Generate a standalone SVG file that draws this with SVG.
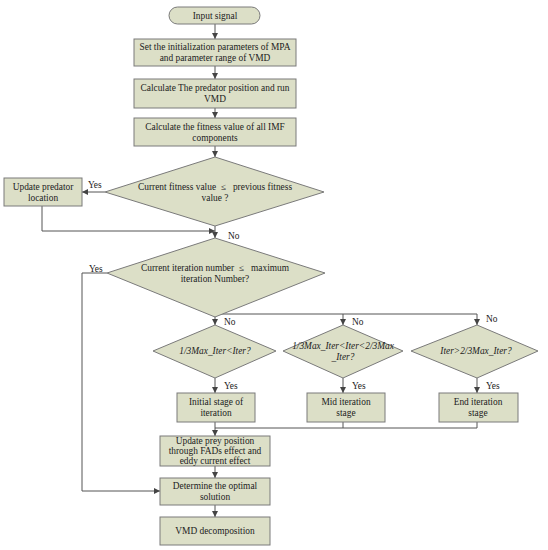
<svg xmlns="http://www.w3.org/2000/svg" width="548" height="550" viewBox="0 0 548 550">
<defs>
<marker id="ah" viewBox="0 0 8 8" refX="8" refY="4" markerWidth="6" markerHeight="6" orient="auto" markerUnits="userSpaceOnUse">
<path d="M0,0 L8,4 L0,8 z" fill="#444"/>
</marker>
<style>
.n{fill:#dcdfc7;stroke:#7a7a7a;stroke-width:1}
.t{font-family:"Liberation Serif","DejaVu Serif",serif;font-size:9.4px;fill:#222;text-anchor:middle}
.l{font-family:"Liberation Serif","DejaVu Serif",serif;font-size:9.4px;fill:#222}
.i{font-style:italic}
.c{fill:none;stroke:#555;stroke-width:1}
.a{marker-end:url(#ah)}
</style>
</defs>
<rect width="548" height="550" fill="#fff"/>
<g id="connectors">
<path class="c a" d="M215,24 V39"/>
<path class="c a" d="M215,66 V79"/>
<path class="c a" d="M215,108 V118"/>
<path class="c a" d="M215,146 V157"/>
<path class="c a" d="M105,192 H82"/>
<path class="c a" d="M42,206 V231 H215"/>
<path class="c a" d="M215,226 V238"/>
<path class="c" d="M107,273 H82 V491"/>
<path class="c a" d="M82,491 H160"/>
<path class="c" d="M215,317 V314 H477"/>
<path class="c a" d="M215,314 V325"/>
<path class="c a" d="M343,314 V325"/>
<path class="c a" d="M477,314 V325"/>
<path class="c a" d="M215,378 V393"/>
<path class="c a" d="M343,378 V393"/>
<path class="c a" d="M477,378 V393"/>
<path class="c" d="M215,422 V428 H477 V422"/>
<path class="c" d="M343,422 V428"/>
<path class="c a" d="M215,428 V436"/>
<path class="c a" d="M215,466 V478"/>
<path class="c a" d="M215,505 V517"/>
<text class="l" x="88" y="188">Yes</text>
<text class="l" x="228" y="239">No</text>
<text class="l" x="89" y="272">Yes</text>
<text class="l" x="224" y="325">No</text>
<text class="l" x="352" y="325">No</text>
<text class="l" x="486" y="322">No</text>
<text class="l" x="224" y="389">Yes</text>
<text class="l" x="352" y="389">Yes</text>
<text class="l" x="486" y="389">Yes</text>
</g>
<g id="input">
<rect class="n" x="169" y="7" width="91" height="17" rx="8.5"/>
<text class="t" x="215" y="18.5">Input signal</text>
</g>
<g id="init">
<rect class="n" x="134" y="39" width="162" height="27"/>
<text class="t" x="215" y="50">Set the initialization parameters of MPA</text>
<text class="t" x="215" y="61">and parameter range of VMD</text>
</g>
<g id="calcpred">
<rect class="n" x="134" y="79" width="162" height="29"/>
<text class="t" x="215" y="91">Calculate The predator position and run</text>
<text class="t" x="215" y="102">VMD</text>
</g>
<g id="fitness">
<rect class="n" x="134" y="118" width="162" height="28"/>
<text class="t" x="215" y="130">Calculate the fitness value of all IMF</text>
<text class="t" x="215" y="141">components</text>
</g>
<g id="dec1">
<polygon class="n" points="215,157 324,192 215,226 105,192"/>
<text class="t" x="215" y="190">Current fitness value &#160;≤ &#160; previous fitness</text>
<text class="t" x="215" y="201">value ?</text>
</g>
<g id="updpred">
<rect class="n" x="4" y="178" width="78" height="28"/>
<text class="t" x="43" y="190">Update predator</text>
<text class="t" x="43" y="201">location</text>
</g>
<g id="dec2">
<polygon class="n" points="215,238 325,273 215,317 107,273"/>
<text class="t" x="215" y="271">Current iteration number &#160;≤ &#160; maximum</text>
<text class="t" x="215" y="282">iteration Number?</text>
</g>
<g id="d3">
<polygon class="n" points="215,325 276,351 215,378 153,351"/>
<text class="t i" x="215" y="354">1/3Max_Iter&lt;Iter?</text>
</g>
<g id="d4">
<polygon class="n" points="343,325 403,351 343,378 283,351"/>
<text class="t i" x="343" y="349">1/3Max_Iter&lt;Iter&lt;2/3Max</text>
<text class="t i" x="343" y="360">_Iter?</text>
</g>
<g id="d5">
<polygon class="n" points="477,325 538,351 477,378 411,351"/>
<text class="t i" x="476" y="354">Iter&gt;2/3Max_Iter?</text>
</g>
<g id="initstage">
<rect class="n" x="177" y="393" width="78" height="29"/>
<text class="t" x="216" y="405">Initial stage of</text>
<text class="t" x="216" y="416">iteration</text>
</g>
<g id="midstage">
<rect class="n" x="307" y="393" width="78" height="29"/>
<text class="t" x="346" y="405">Mid iteration</text>
<text class="t" x="346" y="416">stage</text>
</g>
<g id="endstage">
<rect class="n" x="439" y="393" width="79" height="29"/>
<text class="t" x="478" y="405">End iteration</text>
<text class="t" x="478" y="416">stage</text>
</g>
<g id="updprey">
<rect class="n" x="160" y="436" width="110" height="30"/>
<text class="t" x="215" y="444">Update prey position</text>
<text class="t" x="215" y="454">through FADs effect and</text>
<text class="t" x="215" y="464">eddy current effect</text>
</g>
<g id="optimal">
<rect class="n" x="160" y="478" width="110" height="27"/>
<text class="t" x="215" y="489">Determine the optimal</text>
<text class="t" x="215" y="500">solution</text>
</g>
<g id="vmd">
<rect class="n" x="160" y="517" width="110" height="28"/>
<text class="t" x="215" y="534">VMD decomposition</text>
</g>
</svg>
